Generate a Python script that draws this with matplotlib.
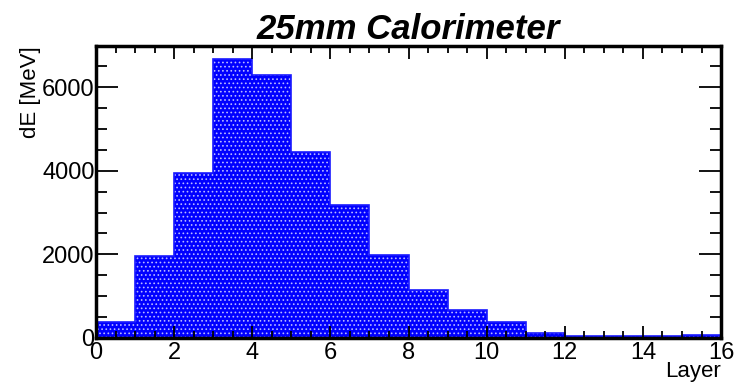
import matplotlib
matplotlib.use("Agg")
import matplotlib.pyplot as plt
from matplotlib.ticker import MultipleLocator
import numpy as np

# energy deposited per layer
layers = np.arange(0, 17)
dE = [380, 1960, 3940, 6660, 6300, 4450, 3180, 1990,
      1140, 670, 380, 110, 50, 50, 50, 70]

plt.rcParams["font.family"] = ["Liberation Sans", "DejaVu Sans"]
plt.rcParams["hatch.linewidth"] = 0.7

fig = plt.figure(figsize=(7.35, 3.84), dpi=100)
ax = fig.add_axes([0.1306, 0.1198, 0.8504, 0.7602])

ax.bar(layers[:-1], dE, width=1, align="edge", color="#0000ff",
       edgecolor="#b8b8ff", hatch="....", linewidth=0)
ax.stairs(dE, layers, color="#1a1aff", linewidth=1.2)

ax.set_xlim(0, 16)
ax.set_ylim(0, 6980)

ax.xaxis.set_major_locator(MultipleLocator(2))
ax.xaxis.set_minor_locator(MultipleLocator(0.5))
ax.yaxis.set_major_locator(MultipleLocator(2000))
ax.yaxis.set_minor_locator(MultipleLocator(500))
ax.tick_params(which="both", direction="in", top=True, right=True,
               width=1.3, labelsize=17)
ax.tick_params(axis="y", which="major", length=16)
ax.tick_params(axis="y", which="minor", length=8)
ax.tick_params(axis="x", which="major", length=9)
ax.tick_params(axis="x", which="minor", length=5)
ax.tick_params(axis="x", pad=3)
ax.tick_params(axis="y", pad=1)
for s in ax.spines.values():
    s.set_linewidth(2.5)

ax.set_title("25mm Calorimeter", fontsize=25, fontweight="bold",
             fontstyle="italic", pad=3)
ax.set_ylabel("dE [MeV]", fontsize=16, loc="top", labelpad=1)
ax.set_xlabel("Layer", fontsize=16, loc="right", labelpad=-2)

fig.savefig("out.png", dpi=100)
